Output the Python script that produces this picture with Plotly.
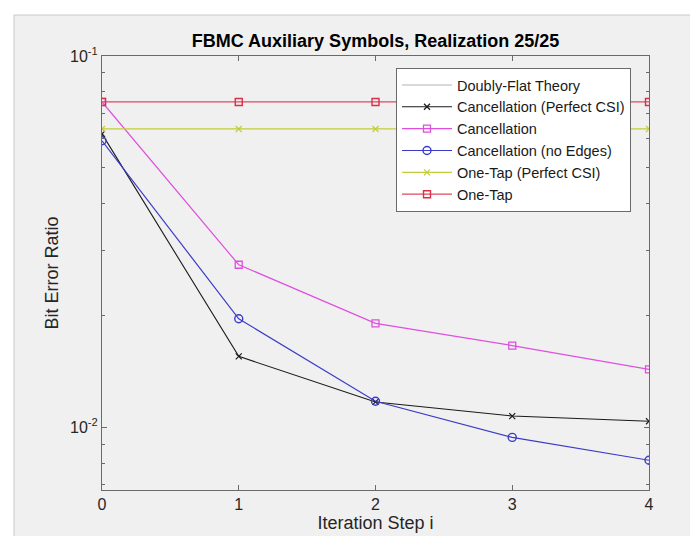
import plotly.graph_objects as go

iterations = [0, 1, 2, 3, 4]
ber_cancel_perfect_csi = [0.0617, 0.01552, 0.0117, 0.01072, 0.01038]
ber_cancel = [0.0752, 0.0274, 0.01905, 0.0166, 0.01432]
ber_cancel_no_edges = [0.0591, 0.0196, 0.01175, 0.00939, 0.00815]
ber_onetap_perfect_csi = [0.0636, 0.0636, 0.0636, 0.0636, 0.0636]
ber_onetap = [0.0752, 0.0752, 0.0752, 0.0752, 0.0752]

x_ticks = [0, 1, 2, 3, 4]
y_ticks = [0.01, 0.1]
y_ticktext = ["10<sup>-2</sup>", "10<sup>-1</sup>"]
y_minor = [0.007, 0.008, 0.009, 0.02, 0.03, 0.04, 0.05, 0.06, 0.07, 0.08, 0.09]

W, H = 698, 536
L, R, T, B = 94, 641, 48, 482

FONT = "Liberation Sans, Arial, sans-serif"
AX = "#6a6a6a"
TXT = "#262626"

fig = go.Figure()

fig.add_trace(go.Scatter(x=[None], y=[None], mode="lines", name="Doubly-Flat Theory",
                         line=dict(color="#d9d9d9", width=2)))
fig.add_trace(go.Scatter(x=iterations, y=ber_cancel_perfect_csi, mode="lines+markers",
                         name="Cancellation (Perfect CSI)",
                         line=dict(color="#1a1a1a", width=1.1),
                         marker=dict(symbol="x-thin-open", size=6, color="#1a1a1a",
                                     line=dict(width=1.2, color="#1a1a1a"))))
fig.add_trace(go.Scatter(x=iterations, y=ber_cancel, mode="lines+markers",
                         name="Cancellation",
                         line=dict(color="#df4fdf", width=1.2),
                         marker=dict(symbol="square-open", size=7, color="#df4fdf",
                                     line=dict(width=1.3))))
fig.add_trace(go.Scatter(x=iterations, y=ber_cancel_no_edges, mode="lines+markers",
                         name="Cancellation (no Edges)",
                         line=dict(color="#3b3bc8", width=1.2),
                         marker=dict(symbol="circle-open", size=8, color="#3b3bc8",
                                     line=dict(width=1.4))))
fig.add_trace(go.Scatter(x=iterations, y=ber_onetap_perfect_csi, mode="lines+markers",
                         name="One-Tap (Perfect CSI)",
                         line=dict(color="#c3cc3a", width=1.2),
                         marker=dict(symbol="x-thin-open", size=6, color="#c3cc3a",
                                     line=dict(width=1.2, color="#c3cc3a"))))
fig.add_trace(go.Scatter(x=iterations, y=ber_onetap, mode="lines+markers",
                         name="One-Tap",
                         line=dict(color="#e2485c", width=1.3),
                         marker=dict(symbol="square-open", size=7, color="#d83048",
                                     line=dict(width=1.4))))

fig.update_layout(
    width=W, height=H,
    margin=dict(l=L, r=W - R, t=T, b=H - B, pad=0, autoexpand=False),
    paper_bgcolor="#ffffff",
    plot_bgcolor="#ffffff",
    font=dict(family=FONT, size=15, color=TXT),
    title=dict(text="<b>FBMC Auxiliary Symbols, Realization 25/25</b>",
               x=0.5, xref="paper", xanchor="center",
               y=1 - 33 / H, yref="container", yanchor="middle",
               font=dict(size=18, color="#000000", family=FONT)),
    showlegend=True,
    legend=dict(x=(388 - L) / (R - L), y=(B - 60) / (B - T), xanchor="left", yanchor="top",
                bgcolor="#ffffff", bordercolor="#6a6a6a", borderwidth=1,
                font=dict(size=14.5, color="#1a1a1a", family=FONT),
                itemwidth=50, tracegroupgap=0, itemsizing="trace"),
    shapes=[
        dict(type="rect", xref="paper", yref="paper", layer="below",
             x0=(6 - L) / (R - L), x1=(W + 5 - L) / (R - L),
             y0=(B - (H + 5)) / (B - T), y1=(B - 7) / (B - T),
             fillcolor="#f0f0f0", line=dict(color="#c8c8c8", width=1)),
    ],
)

fig.update_xaxes(
    range=[0, 4], tickvals=x_ticks, ticktext=[str(v) for v in x_ticks],
    ticks="inside", ticklen=5, tickcolor=AX, tickwidth=1,
    showline=True, linecolor=AX, linewidth=1, mirror="ticks",
    showgrid=False, zeroline=False,
    tickfont=dict(size=16, color=TXT),
    title=dict(text="Iteration Step i", font=dict(size=18, color=TXT), standoff=4),
)
fig.update_yaxes(
    type="log", range=[-2.169, -1.0],
    tickvals=y_ticks, ticktext=y_ticktext,
    ticks="inside", ticklen=5, tickcolor=AX, tickwidth=1,
    minor=dict(tickvals=y_minor, ticks="inside", ticklen=3, tickcolor=AX, showgrid=False),
    showline=True, linecolor=AX, linewidth=1, mirror="ticks",
    showgrid=False, zeroline=False,
    tickfont=dict(size=16, color=TXT),
    title=dict(text="Bit Error Ratio", font=dict(size=18, color=TXT), standoff=6),
)

fig.write_html("out.html")
